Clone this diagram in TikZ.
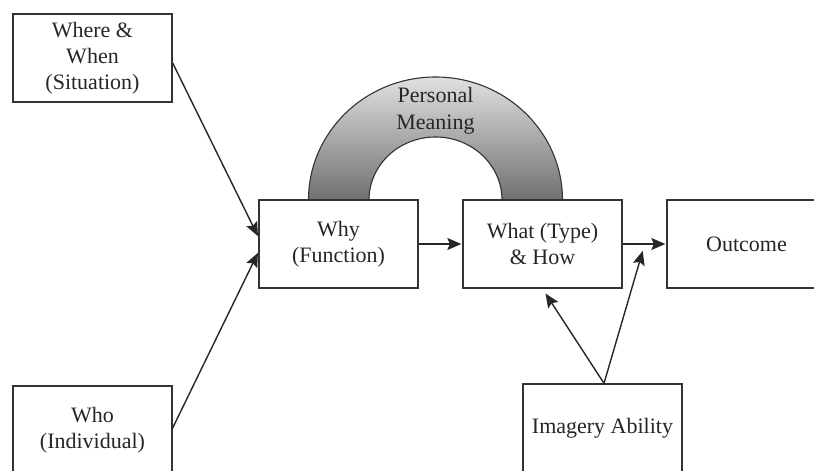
\documentclass[tikz,border=0pt]{standalone}
\usepackage{fontspec}
\setmainfont{Liberation Serif}
\usetikzlibrary{arrows.meta,calc}
\begin{document}
\begin{tikzpicture}[x=1pt,y=1pt,
  box/.style={draw=black!80,line width=1.3pt,fill=white,minimum width=159pt,
    minimum height=88pt,align=center,inner sep=0pt,
    font=\fontsize{22}{26}\selectfont,text=black!85},
  link/.style={draw=black!85,line width=1.4pt,shorten >=1pt,
    -{Stealth[length=14pt,width=12pt,inset=2.5pt]}}]
\useasboundingbox (0,0) rectangle (814,471);
\clip (0,0) rectangle (814,471);

% shaded arch linking the two central boxes
\path[draw=black!80,line width=1.1pt,top color=black!12,bottom color=black!56]
  (308.5,271) arc[start angle=180,end angle=0,x radius=127,y radius=123]
  -- (502,271) arc[start angle=0,end angle=180,x radius=66.5,y radius=63] -- cycle;
\node[align=center,font=\fontsize{22}{27}\selectfont,text=black!85] (meaning)
  at (435.5,360) {Personal\\Meaning};

% boxes
\node[box] (where)   at (92.5,413)  {Where \&\\When\\(Situation)};
\node[box] (who)     at (92.5,41)   {Who\\(Individual)};
\node[box] (why)     at (338.5,227) {Why\\(Function)};
\node[box] (what)    at (542.5,227) {What (Type)\\\& How};
\node[box] (outcome) at (746.5,227) {Outcome};
\node[box] (imagery) at (602.5,43)  {Imagery Ability};

% arrow targets
\coordinate (whyA) at ($(why.west)+(0,7)$);
\coordinate (whyB) at ($(why.west)+(0,-8)$);
\coordinate (whatB) at ($(what.south)+(2.5,-4)$);
\coordinate (midpt) at (643,221);

% connectors
\draw[link] ($(where.east)+(0,-5)$) -- (whyA);
\draw[link] ($(who.east)+(0,2)$) -- (whyB);
\draw[link] (why) -- (what);
\draw[link] (what) -- (outcome);
\draw[link] ($(imagery.north)+(1.5,0)$) -- (whatB);
\draw[link] ($(imagery.north)+(1.5,0)$) -- (midpt);
\end{tikzpicture}
\end{document}
